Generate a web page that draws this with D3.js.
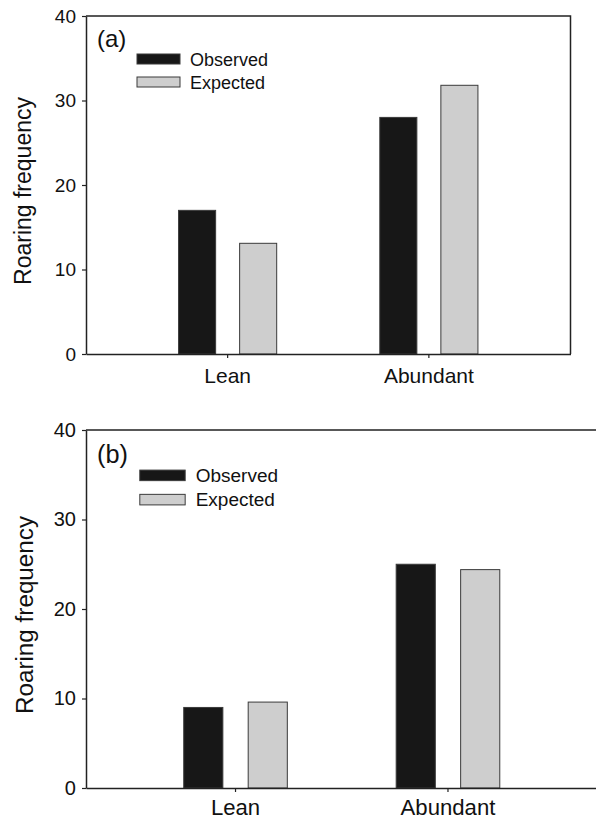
<!DOCTYPE html>
<html>
<head>
<meta charset="utf-8">
<script src="https://cdn.jsdelivr.net/npm/d3@7"></script>
<style>
    body { margin: 0; background: white; }
    svg { display: block; font-family: "Liberation Sans", Arial, Helvetica, sans-serif; }
</style>
</head>
<body>
<div id="chart-container"></div>
<script>
// data
const categories = ['Lean', 'Abundant']
const seriesNames = ['Observed', 'Expected']
const observedA = [17, 28]
const expectedA = [13.1, 31.8]
const observedB = [9, 25]
const expectedB = [9.6, 24.4]
const yTicks = [0, 10, 20, 30, 40]
const panelLabels = ['(a)', '(b)']
const yTitle = 'Roaring frequency'

const colours = { Observed: '#171717', Expected: '#cecece' }

const width = 596
const height = 820

const svg = d3.select('#chart-container')
    .append('svg')
    .attr('id', 'chart-svg')
    .attr('width', width)
    .attr('height', height)

// layout of each panel (panel b is drawn a bit bigger, and runs off the right edge)
const panels = [
    { label: panelLabels[0], observed: observedA, expected: expectedA,
      left: 86, right: 570.5, top: 16, bottom: 354, scale: 1, xPad: 10 },
    { label: panelLabels[1], observed: observedB, expected: expectedB,
      left: 86, right: 597.5, top: 430, bottom: 788, scale: 1.055, xPad: 7 }
]

const drawPanel = panel => {
    const s = panel.scale
    const g = svg.append('g').attr('class', 'panel')

    const x = d3.scaleBand()
        .domain(categories)
        .range([panel.left, panel.right])
        .paddingInner(0.5124)
        .paddingOuter(0.46)

    const xInner = d3.scaleBand()
        .domain(seriesNames)
        .range([0, x.bandwidth()])
        .paddingInner(0.393)

    const y = d3.scaleLinear()
        .domain([0, 40])
        .range([panel.bottom, panel.top])

    const rows = categories.map((c, i) => ({
        category: c,
        values: [
            { name: 'Observed', value: panel.observed[i] },
            { name: 'Expected', value: panel.expected[i] }
        ]
    }))

    // bars
    g.append('g')
        .selectAll('g')
        .data(rows)
        .join('g')
        .attr('transform', d => `translate(${x(d.category)},0)`)
        .selectAll('rect')
        .data(d => d.values)
        .join('rect')
        .attr('x', d => xInner(d.name))
        .attr('y', d => y(d.value))
        .attr('width', xInner.bandwidth())
        .attr('height', d => y(0) - y(d.value))
        .attr('fill', d => colours[d.name])
        .attr('stroke', '#3a3a3a')
        .attr('stroke-width', 1)

    // frame (top and right)
    g.append('path')
        .attr('d', `M${panel.left},${panel.top}H${panel.right}V${panel.bottom}`)
        .attr('fill', 'none')
        .attr('stroke', '#222')
        .attr('stroke-width', 1.5)

    // y axis
    const yAxis = g.append('g')
        .attr('transform', `translate(${panel.left},0)`)
        .call(d3.axisLeft(y).tickValues(yTicks).tickSize(4).tickPadding(6).tickSizeOuter(0))
    yAxis.select('.domain').attr('stroke', '#222').attr('stroke-width', 1.5)
    yAxis.selectAll('.tick line').attr('stroke', '#222').attr('stroke-width', 1.2)
    yAxis.selectAll('.tick text')
        .attr('fill', '#111')
        .style('font-size', `${19 * s}px`)
        .style('font-family', '"Liberation Sans", Arial, sans-serif')

    // x axis, ticks at the group centres
    const xAxis = g.append('g')
        .attr('transform', `translate(0,${panel.bottom})`)
        .call(d3.axisBottom(x).tickSize(4).tickPadding(panel.xPad).tickSizeOuter(0))
    xAxis.select('.domain').attr('stroke', '#222').attr('stroke-width', 1.5)
    xAxis.selectAll('.tick line').attr('stroke', '#222').attr('stroke-width', 1.2)
    xAxis.selectAll('.tick text')
        .attr('fill', '#111')
        .style('font-size', `${21 * s}px`)
        .style('font-family', '"Liberation Sans", Arial, sans-serif')

    // y title
    g.append('text')
        .attr('transform', `translate(${31 * s},${(panel.top + panel.bottom) / 2 + 6})rotate(-90)`)
        .attr('text-anchor', 'middle')
        .attr('fill', '#111')
        .style('font-size', `${23 * s}px`)
        .text(yTitle)

    // panel label
    g.append('text')
        .attr('x', panel.left + 11)
        .attr('y', panel.top + 31 * s)
        .attr('fill', '#111')
        .style('font-size', `${24 * s}px`)
        .text(panel.label)

    // legend
    const legend = g.append('g')
        .attr('transform', `translate(${panel.left + 51 * s},${panel.top + 38 * s})`)
    seriesNames.forEach((name, i) => {
        legend.append('rect')
            .attr('x', 0)
            .attr('y', i * 23 * s)
            .attr('width', 43 * s)
            .attr('height', 10 * s)
            .attr('fill', colours[name])
            .attr('stroke', '#3a3a3a')
            .attr('stroke-width', 1)
        legend.append('text')
            .attr('x', 53 * s)
            .attr('y', i * 23 * s + 11.5 * s)
            .attr('fill', '#111')
            .style('font-size', `${18 * s}px`)
            .text(name)
    })
}

panels.forEach(drawPanel)
</script>
</body>
</html>
